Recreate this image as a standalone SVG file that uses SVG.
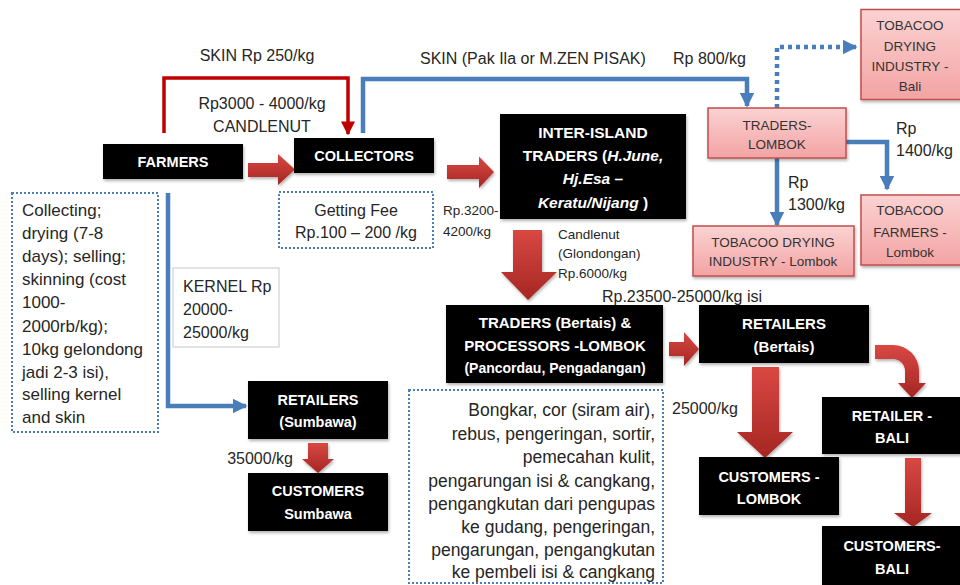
<svg xmlns="http://www.w3.org/2000/svg" width="960" height="585" viewBox="0 0 960 585">
<defs>
<linearGradient id="rg" x1="0" y1="0" x2="0" y2="1"><stop offset="0" stop-color="#d94843"/><stop offset="1" stop-color="#a52622"/></linearGradient>
<linearGradient id="pk" x1="0" y1="0" x2="0" y2="1"><stop offset="0" stop-color="#fbd2d2"/><stop offset="1" stop-color="#f3a3a3"/></linearGradient>
<marker id="ab" viewBox="0 0 10 10" refX="9" refY="5" markerWidth="15" markerHeight="15" markerUnits="userSpaceOnUse" orient="auto"><path d="M0,0 L10,5 L0,10 z" fill="#4a7ebb"/></marker>
<marker id="ar" viewBox="0 0 10 10" refX="9" refY="5" markerWidth="14" markerHeight="14" markerUnits="userSpaceOnUse" orient="auto"><path d="M0,0 L10,5 L0,10 z" fill="#c00000"/></marker>
<filter id="sh" x="-10%" y="-10%" width="130%" height="140%"><feDropShadow dx="1" dy="2" stdDeviation="1.5" flood-color="#000" flood-opacity="0.3"/></filter>
</defs>
<style>
text{font-family:"Liberation Sans",Arial,sans-serif;fill:#262626}
.lb{font-size:16px}
.lb17{font-size:17px}
.lb175{font-size:17.5px}
.sm{font-size:13.5px}
.bk rect{fill:#000;filter:url(#sh)}
.bk text{fill:#fff;font-weight:bold;font-size:14.5px;text-anchor:middle}
.bk text.b15{font-size:15px}
.bk text.b155{font-size:15.5px}
.bk text.b14{font-size:14px}
.pk rect{fill:url(#pk);stroke:#c0504d;stroke-width:1.5;filter:url(#sh)}
.pk text{fill:#333;font-size:13.5px;text-anchor:middle}
.dot{fill:#fff;stroke:#4a7ebb;stroke-width:2;stroke-dasharray:2 2}
.bl{fill:none;stroke:#4a7ebb;stroke-width:4.5}
.fat{fill:url(#rg);filter:url(#sh)}
</style>

<g id="connectors">
<polyline class="bl" points="168,193 168,406 246,406" marker-end="url(#ab)"/>
<polyline class="bl" points="363,133 363,79 747,79 747,106" marker-end="url(#ab)"/>
<polyline class="bl" points="777,108 777,47 856,47" stroke-dasharray="4 4" marker-end="url(#ab)"/>
<polyline class="bl" points="846,142 887,142 887,189" marker-end="url(#ab)"/>
<polyline class="bl" points="777,158 777,225" marker-end="url(#ab)"/>
<polyline fill="none" stroke="#c00000" stroke-width="3.5" points="164,133 164,78 348,78 348,134" marker-end="url(#ar)"/>
<polygon class="fat" points="248,163 278,163 278,154 295,169.5 278,185 278,177 248,177"/>
<polygon class="fat" points="447,165 479,165 479,156.5 494,172 479,188 479,179 447,179"/>
<polygon class="fat" points="513,230 542,230 542,272 557,272 528,300 501,272 513,272"/>
<polygon class="fat" points="669,342 684,342 684,332 699,349 684,366 684,356 669,356"/>
<polygon class="fat" points="308,443 328,443 328,459 334,459 318,473 302,459 308,459"/>
<polygon class="fat" points="752,367 779,367 779,432 793,432 765,458 737,432 752,432"/>
<polygon class="fat" points="905,458 921,458 921,513 932,513 913,527 894,513 905,513"/>
<path class="fat" d="M875,345 L893,345 A26,26 0 0 1 919,371 L919,383 L926,383 L912,398 L898,383 L905,383 L905,371 A12,12 0 0 0 893,359 L875,359 Z"/>
</g>

<g id="labels">
<text class="lb" x="257" y="61" text-anchor="middle">SKIN Rp 250/kg</text>
<text class="lb" x="262" y="109" text-anchor="middle">Rp3000 - 4000/kg</text>
<text class="lb" x="262" y="132" text-anchor="middle">CANDLENUT</text>
<text class="lb" x="420" y="64">SKIN (Pak Ila or M.ZEN PISAK)</text>
<text class="lb" x="673" y="64">Rp 800/kg</text>
<text class="lb" x="896" y="134">Rp</text>
<text class="lb" x="896" y="156">1400/kg</text>
<text class="lb" x="788" y="188">Rp</text>
<text class="lb" x="788" y="210">1300/kg</text>
<text class="sm" x="443" y="215">Rp.3200-</text>
<text class="sm" x="443" y="236">4200/kg</text>
<text class="sm" x="558" y="239">Candlenut</text>
<text class="sm" x="558" y="258">(Glondongan)</text>
<text class="sm" x="558" y="278">Rp.6000/kg</text>
<text class="lb" x="682" y="302" text-anchor="middle">Rp.23500-25000/kg isi</text>
<text class="lb" x="672" y="414">25000/kg</text>
<text class="lb" x="293" y="464" text-anchor="end">35000/kg</text>
</g>

<g id="collecting-note">
<rect class="dot" x="12" y="193" width="146" height="239"/>
<text class="lb17" x="22"><tspan x="22" y="216">Collecting;</tspan><tspan x="22" y="239">drying (7-8</tspan><tspan x="22" y="262">days); selling;</tspan><tspan x="22" y="285">skinning (cost</tspan><tspan x="22" y="308">1000-</tspan><tspan x="22" y="332">2000rb/kg);</tspan><tspan x="22" y="355">10kg gelondong</tspan><tspan x="22" y="378">jadi 2-3 isi),</tspan><tspan x="22" y="400">selling kernel</tspan><tspan x="22" y="423">and skin</tspan></text>
</g>

<g id="fee-note">
<rect class="dot" x="279" y="192" width="154" height="56"/>
<text class="lb" x="356" y="216" text-anchor="middle">Getting Fee</text>
<text class="lb" x="356" y="238" text-anchor="middle">Rp.100 – 200 /kg</text>
</g>

<g id="kernel-note">
<rect x="173" y="268" width="106" height="79" fill="#fff" stroke="#c8c8c8" stroke-width="1"/>
<text class="lb" x="183" y="292">KERNEL Rp</text>
<text class="lb" x="183" y="315">20000-</text>
<text class="lb" x="183" y="338">25000/kg</text>
</g>

<g id="process-note">
<rect class="dot" x="409" y="390" width="254" height="193"/>
<g class="lb175" text-anchor="end">
<text x="655" y="416">Bongkar, cor (siram air),</text>
<text x="655" y="440">rebus, pengeringan, sortir,</text>
<text x="655" y="463">pemecahan kulit,</text>
<text x="655" y="487">pengarungan isi &amp; cangkang,</text>
<text x="655" y="510">pengangkutan dari pengupas</text>
<text x="655" y="533">ke gudang, pengeringan,</text>
<text x="655" y="556">pengarungan, pengangkutan</text>
<text x="655" y="578">ke pembeli isi &amp; cangkang</text>
</g>
</g>

<g id="farmers" class="bk"><rect x="103" y="144" width="140" height="35"/><text x="173" y="167">FARMERS</text></g>
<g id="collectors" class="bk"><rect x="294" y="138" width="140" height="35"/><text x="364" y="161">COLLECTORS</text></g>
<g id="inter-island" class="bk"><rect x="500" y="114" width="186" height="105"/>
<text class="b155" x="593" y="138">INTER-ISLAND</text>
<text class="b155" x="593" y="161">TRADERS (<tspan font-style="italic">H.June,</tspan></text>
<text class="b155" x="593" y="184" font-style="italic">Hj.Esa –</text>
<text class="b155" x="593" y="208"><tspan font-style="italic">Keratu/Nijang</tspan>  )</text>
</g>
<g id="traders-bertais" class="bk"><rect x="446" y="305" width="217" height="78"/>
<text class="b15" x="555" y="328">TRADERS (Bertais) &amp;</text>
<text class="b15" x="555" y="351">PROCESSORS -LOMBOK</text>
<text class="b14" x="555" y="373">(Pancordau, Pengadangan)</text>
</g>
<g id="retailers-bertais" class="bk"><rect x="699" y="305" width="170" height="58"/><text class="b15" x="784" y="329">RETAILERS</text><text class="b15" x="784" y="352">(Bertais)</text></g>
<g id="retailers-sumbawa" class="bk"><rect x="248" y="381" width="140" height="58"/><text x="318" y="405">RETAILERS</text><text x="318" y="427">(Sumbawa)</text></g>
<g id="customers-sumbawa" class="bk"><rect x="248" y="473" width="140" height="58"/><text x="318" y="496">CUSTOMERS</text><text x="318" y="519">Sumbawa</text></g>
<g id="customers-lombok" class="bk"><rect x="699" y="457" width="140" height="58"/><text x="769" y="482">CUSTOMERS -</text><text x="769" y="504">LOMBOK</text></g>
<g id="retailer-bali" class="bk"><rect x="822" y="397" width="142" height="57"/><text x="892" y="421">RETAILER -</text><text x="892" y="443">BALI</text></g>
<g id="customers-bali" class="bk"><rect x="822" y="526" width="142" height="64"/><text x="892" y="551">CUSTOMERS-</text><text x="892" y="574">BALI</text></g>

<g id="traders-lombok" class="pk"><rect x="708" y="108" width="138" height="50"/><text x="777" y="130">TRADERS-</text><text x="777" y="149">LOMBOK</text></g>
<g id="tobacco-bali" class="pk"><rect x="861" y="9.5" width="102" height="90"/><text x="910" y="30">TOBACOO</text><text x="910" y="51">DRYING</text><text x="910" y="71">INDUSTRY -</text><text x="910" y="91">Bali</text></g>
<g id="tobacco-farmers" class="pk"><rect x="861" y="195" width="102" height="70"/><text x="910" y="215">TOBACOO</text><text x="910" y="237">FARMERS -</text><text x="910" y="257">Lombok</text></g>
<g id="tobacco-drying-lombok" class="pk"><rect x="693" y="226" width="161" height="50"/><text x="773" y="247">TOBACOO DRYING</text><text x="773" y="266">INDUSTRY - Lombok</text></g>
</svg>
